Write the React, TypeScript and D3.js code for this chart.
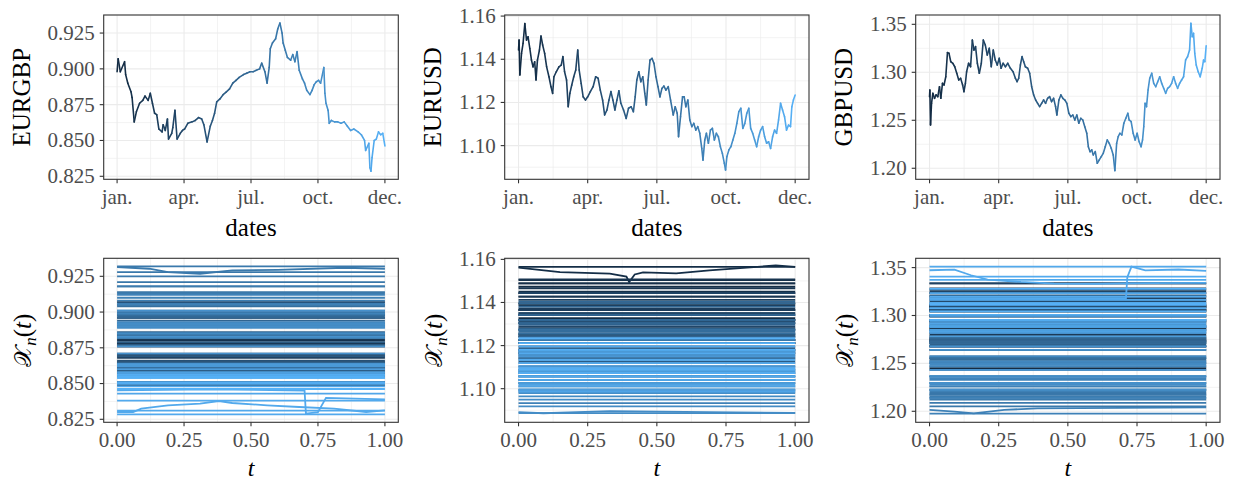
import React from "react";
import * as d3 from "d3";

// daily readings: [trading day (0 = jan., 250 = dec.), rate]
const eurgbp: [number, number][] = [
  [0, 0.898], [1, 0.907], [3, 0.898], [7, 0.905], [8, 0.896], [10, 0.89], [13, 0.884], [14, 0.88],
  [16, 0.863], [18, 0.87], [21, 0.876], [24, 0.878], [26, 0.881], [29, 0.878], [31, 0.883], [33, 0.876],
  [35, 0.869], [37, 0.868], [39, 0.858], [42, 0.856], [43, 0.861], [45, 0.857], [47, 0.865], [48, 0.851],
  [51, 0.855], [52, 0.859], [54, 0.871], [56, 0.851], [59, 0.855], [61, 0.857], [63, 0.858], [66, 0.862],
  [70, 0.863], [73, 0.864], [76, 0.866], [79, 0.865], [81, 0.861], [84, 0.849], [87, 0.86], [89, 0.864],
  [91, 0.869], [93, 0.877], [96, 0.879], [99, 0.882], [102, 0.884], [105, 0.886], [108, 0.89], [111, 0.892],
  [114, 0.894], [118, 0.896], [121, 0.897], [124, 0.898], [127, 0.898], [130, 0.899], [133, 0.9], [135, 0.904],
  [138, 0.898], [140, 0.89], [142, 0.901], [143, 0.914], [145, 0.918], [148, 0.921], [150, 0.928], [152, 0.932],
  [154, 0.925], [155, 0.918], [157, 0.913], [159, 0.908], [162, 0.906], [164, 0.91], [166, 0.905], [168, 0.912],
  [170, 0.899], [173, 0.893], [175, 0.89], [177, 0.885], [180, 0.882], [182, 0.885], [184, 0.889], [186, 0.891],
  [188, 0.892], [190, 0.89], [193, 0.901], [194, 0.883], [195, 0.876], [197, 0.871], [198, 0.862], [200, 0.864],
  [203, 0.863], [206, 0.863], [209, 0.862], [212, 0.863], [215, 0.86], [218, 0.857], [221, 0.858], [225, 0.856],
  [228, 0.854], [231, 0.85], [232, 0.843], [235, 0.848], [236, 0.831], [237, 0.8285], [238, 0.838], [240, 0.85],
  [242, 0.851], [244, 0.856], [246, 0.854], [248, 0.855], [250, 0.8462],
];

const eurusd: [number, number][] = [
  [0, 1.1443], [0.5, 1.1489], [1.2, 1.1327], [2.7, 1.1427], [4.1, 1.1474], [5.7, 1.1565], [7.2, 1.1489], [8.6, 1.1504],
  [10.2, 1.145], [11.7, 1.1396], [13.1, 1.1365], [14.6, 1.1388], [15.8, 1.1304], [17.1, 1.1396], [18.9, 1.1443], [20.3, 1.1507],
  [21.8, 1.1466], [23.6, 1.1427], [25.4, 1.1365], [27.5, 1.1319], [29.3, 1.1273], [30.8, 1.1242], [32, 1.1319], [34.1, 1.1342],
  [36.5, 1.1365], [38.6, 1.1373], [40.1, 1.1412], [41.6, 1.1342], [43.4, 1.1304], [44.9, 1.118], [46.4, 1.1242], [48.1, 1.1281],
  [49.9, 1.1319], [51.7, 1.135], [53.5, 1.1443], [54.8, 1.135], [56.6, 1.1288], [58.4, 1.1226], [60.5, 1.1211], [62.5, 1.1226],
  [64.9, 1.125], [67.4, 1.1273], [69.7, 1.1319], [71.9, 1.1312], [73.9, 1.1257], [76, 1.1211], [77.8, 1.1142], [79.9, 1.1165],
  [81.7, 1.1211], [83.5, 1.125], [85.3, 1.1211], [87.1, 1.1165], [88.9, 1.1211], [90.7, 1.1254], [92.5, 1.1196], [94.9, 1.1165],
  [97.3, 1.1126], [99.4, 1.1173], [101.8, 1.118], [103.8, 1.1157], [105.4, 1.1226], [106.9, 1.1304], [108.7, 1.1342], [110.5, 1.1296],
  [112.3, 1.1319], [114.1, 1.1242], [115.5, 1.1188], [117.1, 1.1304], [118.8, 1.1396], [120.6, 1.1404], [122.4, 1.1381], [124.2, 1.1319],
  [126, 1.1273], [127.8, 1.1226], [129.6, 1.1265], [131.4, 1.1276], [133.2, 1.1257], [135.3, 1.1273], [137.4, 1.1211], [139.8, 1.1142],
  [141.6, 1.118], [143.4, 1.115], [144.6, 1.1041], [146.4, 1.1134], [148.2, 1.1226], [149.7, 1.1226], [151.2, 1.118], [153, 1.1211],
  [154.8, 1.1119], [156.6, 1.1088], [158.4, 1.1103], [160.2, 1.1072], [162, 1.1088], [163.8, 1.1057], [165.6, 1.0987], [166.7, 1.0933],
  [168.3, 1.1026], [169.8, 1.1057], [171.6, 1.1011], [173.4, 1.1072], [175.2, 1.108], [177, 1.1026], [178.8, 1.1057], [180.6, 1.1041],
  [182.4, 1.0995], [184.2, 1.0964], [186, 1.0918], [187.1, 1.0887], [188.3, 1.0949], [190.1, 1.098], [191.9, 1.0995], [193.7, 1.1026],
  [195.5, 1.1057], [197.3, 1.1103], [199.1, 1.1157], [200.9, 1.1173], [202.7, 1.108], [204.5, 1.1103], [206.3, 1.115], [208.1, 1.1173],
  [209.8, 1.108], [211.6, 1.1057], [213.4, 1.1026], [215.2, 1.0995], [217, 1.1041], [218.8, 1.1072], [220.6, 1.1088], [222.4, 1.1041],
  [224.2, 1.1011], [226, 1.1018], [227.8, 1.0987], [229.6, 1.1041], [231.4, 1.1072], [233.2, 1.1057], [235, 1.1119], [236.8, 1.1196],
  [238.6, 1.1165], [240.4, 1.1134], [242.2, 1.1072], [244, 1.1095], [245.8, 1.1088], [247, 1.118], [248.4, 1.1211], [250, 1.1234],
];

const gbpusd: [number, number][] = [
  [0, 1.2746], [0.3, 1.2816], [0.9, 1.2451], [1.8, 1.2677], [3, 1.2781], [4.5, 1.2729], [5.9, 1.2764], [7.5, 1.2746],
  [9, 1.285], [10.2, 1.2729], [11.7, 1.2885], [13.1, 1.2868], [14.7, 1.2954], [16.2, 1.3205], [17.6, 1.3198], [19.2, 1.311],
  [21, 1.3094], [22.8, 1.3058], [24.6, 1.299], [26.4, 1.292], [28.1, 1.2938], [29.9, 1.2868], [31.1, 1.2798], [32.4, 1.2885],
  [33.5, 1.3006], [35.3, 1.3094], [37.1, 1.3058], [38.7, 1.3336], [40.1, 1.3232], [41.6, 1.3267], [43.2, 1.3094], [45, 1.299],
  [46.8, 1.3094], [48.6, 1.3336], [50.4, 1.3284], [52.2, 1.318], [54, 1.325], [55.8, 1.3058], [57.6, 1.3232], [59.4, 1.3128],
  [61.2, 1.3076], [63, 1.3146], [64.7, 1.3042], [66.5, 1.3094], [68.6, 1.3058], [70.7, 1.3094], [73.1, 1.3042], [75.5, 1.3006],
  [77.6, 1.2938], [79.1, 1.2902], [80.6, 1.2938], [82.1, 1.3076], [83.6, 1.3163], [85.1, 1.311], [86.6, 1.3058], [88.7, 1.3042],
  [90.5, 1.299], [92.3, 1.285], [94.1, 1.2764], [95.9, 1.2711], [97.7, 1.2677], [99.5, 1.2642], [101.3, 1.2677], [103.1, 1.2711],
  [104.9, 1.2677], [106.7, 1.2729], [108.5, 1.2746], [110.3, 1.2694], [112.1, 1.2729], [113.9, 1.2642], [115.1, 1.2555], [116.9, 1.2711],
  [118.7, 1.2764], [120.5, 1.2729], [122.3, 1.2711], [124.1, 1.2677], [125.9, 1.2573], [127.7, 1.2538], [129.5, 1.2555], [131.3, 1.2503],
  [133.1, 1.2555], [134.9, 1.2469], [136.7, 1.2521], [138.5, 1.2503], [140.3, 1.2433], [142.1, 1.2365], [143.5, 1.2225], [145.1, 1.2173],
  [146.6, 1.2191], [148, 1.2139], [149.8, 1.2173], [151.6, 1.2052], [153.4, 1.2087], [155.2, 1.2121], [157, 1.2156], [158.8, 1.2225],
  [160.6, 1.2295], [162.4, 1.226], [164.2, 1.2208], [166, 1.2139], [167.5, 1.1975], [169.1, 1.226], [170.5, 1.2329], [172, 1.2365],
  [173.8, 1.2347], [175.6, 1.2469], [177.4, 1.2521], [179.2, 1.2573], [180.4, 1.2503], [182.2, 1.2486], [184, 1.2365], [185.8, 1.2295],
  [187.6, 1.2365], [189.4, 1.2278], [191.2, 1.2225], [192.5, 1.2295], [193.6, 1.2433], [194.8, 1.2677], [196.1, 1.2642], [197.5, 1.2816],
  [199, 1.2938], [200.8, 1.299], [202.6, 1.2885], [204.4, 1.285], [206.2, 1.2902], [208, 1.2954], [209.8, 1.2885], [211.6, 1.2833],
  [213.4, 1.2781], [215.2, 1.2833], [217, 1.285], [218.8, 1.2885], [220.6, 1.2954], [222.4, 1.2885], [224.2, 1.2833], [226, 1.2885],
  [227.8, 1.292], [229.6, 1.2954], [231.4, 1.3128], [233.2, 1.3163], [235, 1.3232], [236.2, 1.351], [237.4, 1.3371], [238.6, 1.3406],
  [239.7, 1.3198], [241, 1.3076], [242.8, 1.3006], [244.6, 1.2954], [246.4, 1.3042], [247.6, 1.3128], [248.8, 1.311], [250, 1.3277],
];

// intraday curves that visibly move within the day: [t, rate]
const eurgbpCurves = [
  { day: 152, pts: [[0, 0.9315], [0.12, 0.9303], [0.19, 0.928], [0.31, 0.9268], [0.43, 0.9291], [0.6, 0.9295], [0.85, 0.931], [1, 0.9303]] },
  { day: 236, pts: [[0, 0.8301], [0.06, 0.8301], [0.09, 0.8325], [0.19, 0.8348], [0.31, 0.836], [0.38, 0.8378], [0.43, 0.8364], [0.56, 0.8348], [0.68, 0.8336], [0.81, 0.8325], [0.93, 0.8301], [1, 0.8313]] },
  { day: 237, pts: [[0, 0.8453], [0.35, 0.846], [0.7, 0.845], [0.705, 0.829], [0.75, 0.83], [0.78, 0.84], [1, 0.839]] },
];
const eurusdCurves = [
  { day: 6, pts: [[0, 1.1562], [0.15, 1.1541], [0.33, 1.1534], [0.39, 1.152], [0.4, 1.1495], [0.42, 1.153], [0.45, 1.154], [0.57, 1.1535], [0.69, 1.1549], [0.93, 1.1572], [1, 1.1565]] },
  { day: 187, pts: [[0, 1.0891], [0.09, 1.0886], [0.33, 1.0896], [0.69, 1.0891], [1, 1.0888]] },
];
const gbpusdCurves = [
  { day: 167, pts: [[0, 1.2014], [0.09, 1.1997], [0.16, 1.1979], [0.27, 1.2014], [0.39, 1.2031], [1, 1.204]] },
  { day: 236, pts: [[0, 1.3472], [0.09, 1.3478], [0.15, 1.342], [0.21, 1.3375], [0.33, 1.335], [0.45, 1.3333], [0.6, 1.333], [0.7, 1.3335], [0.8, 1.3338], [1, 1.334]] },
  { day: 237, pts: [[0, 1.318], [0.71, 1.318], [0.715, 1.34], [0.73, 1.351], [0.78, 1.347], [0.9, 1.348], [1, 1.3465]] },
];

const pairNames = ["EURGBP", "EURUSD", "GBPUSD"];
const seriesList = [eurgbp, eurusd, gbpusd];
const curveList = [eurgbpCurves, eurusdCurves, gbpusdCurves];
const yDomains = [[0.8229, 0.9376], [1.0844, 1.1605], [1.1885, 1.3597]];
const yTickList = [[0.825, 0.85, 0.875, 0.9, 0.925], [1.1, 1.12, 1.14, 1.16], [1.2, 1.25, 1.3, 1.35]];
const yDigits = [3, 2, 2];
const monthDays = [0, 62.5, 125, 187.5, 250];
const monthLabels = ["jan.", "apr.", "jul.", "oct.", "dec."];
const tTicks = [0, 0.25, 0.5, 0.75, 1];

const W = 1235;
const H = 481;
const FONT = "'Liberation Serif', 'DejaVu Serif', serif";
const colsX = [[103.7, 398.3], [504.7, 809], [915.7, 1220]];
const rowsY = [[15, 179.3], [258.3, 422.3]];
const titleXs = [30, 440.7, 851.7];

const color = d3.scaleLinear<string>().domain([0, 250]).range(["#132B43", "#56B1F7"]).interpolate(d3.interpolateLab);

function midTicks(ticks: number[], domain: number[]) {
  const step = ticks[1] - ticks[0];
  const out: number[] = [];
  for (let i = -1; i < ticks.length; i++) {
    const v = ticks[0] + step * (i + 0.5);
    if (v > domain[0] && v < domain[1]) out.push(v);
  }
  return out;
}

function Panel({ id, x, y, xTicks, xLabels, yTicks, digits, yTitle, xTitle, xTitleY, titleX, children }: any) {
  const [x0, x1] = x.range();
  const [yb, yt] = y.range();
  const xMinor = midTicks(xTicks, x.domain());
  const yMinor = midTicks(yTicks, y.domain());
  const cy = (yb + yt) / 2;
  return (
    <g>
      <clipPath id={id}>
        <rect x={x0} y={yt} width={x1 - x0} height={yb - yt} />
      </clipPath>
      <g stroke="#EBEBEB" fill="none">
        {yMinor.map((v) => <line key={"ym" + v} x1={x0} x2={x1} y1={y(v)} y2={y(v)} strokeWidth={0.6} />)}
        {xMinor.map((v) => <line key={"xm" + v} x1={x(v)} x2={x(v)} y1={yt} y2={yb} strokeWidth={0.6} />)}
        {yTicks.map((v: number) => <line key={"y" + v} x1={x0} x2={x1} y1={y(v)} y2={y(v)} strokeWidth={1.1} />)}
        {xTicks.map((v: number) => <line key={"x" + v} x1={x(v)} x2={x(v)} y1={yt} y2={yb} strokeWidth={1.1} />)}
      </g>
      <g clipPath={`url(#${id})`}>{children}</g>
      <rect x={x0} y={yt} width={x1 - x0} height={yb - yt} fill="none" stroke="#333333" strokeWidth={1.1} />
      <g stroke="#333333" strokeWidth={1.1}>
        {yTicks.map((v: number) => <line key={"yt" + v} x1={x0 - 4} x2={x0} y1={y(v)} y2={y(v)} />)}
        {xTicks.map((v: number) => <line key={"xt" + v} x1={x(v)} x2={x(v)} y1={yb} y2={yb + 4} />)}
      </g>
      <g fontFamily={FONT} fontSize={21} fill="#4D4D4D">
        {yTicks.map((v: number) => (
          <text key={"yl" + v} x={x0 - 9} y={y(v)} dy="0.33em" textAnchor="end">{v.toFixed(digits)}</text>
        ))}
        {xTicks.map((v: number, i: number) => (
          <text key={"xl" + v} x={x(v)} y={yb + 24.7} textAnchor="middle">{xLabels[i]}</text>
        ))}
      </g>
      <g fontFamily={FONT} fontSize={25} fill="#000000">
        <text x={(x0 + x1) / 2} y={yb + xTitleY} textAnchor="middle">{xTitle}</text>
        <text transform={`translate(${titleX},${cy}) rotate(-90)`} textAnchor="middle">{yTitle}</text>
      </g>
    </g>
  );
}

export default function App() {
  const line = d3.line<number[]>();
  return (
    <svg width={W} height={H} style={{ position: "absolute", left: 0, top: 0, background: "#fff" }}>
      <rect width={W} height={H} fill="#fff" />
      {pairNames.map((name, c) => {
        const data = seriesList[c];
        const xTop = d3.scaleLinear().domain([-12.5, 262.5]).range(colsX[c]);
        const yTop = d3.scaleLinear().domain(yDomains[c]).range([rowsY[0][1], rowsY[0][0]]);
        const xBot = d3.scaleLinear().domain([-0.05, 1.05]).range(colsX[c]);
        const yBot = d3.scaleLinear().domain(yDomains[c]).range([rowsY[1][1], rowsY[1][0]]);
        // one curve per day: flat at the day's level, plus the readable moving ones
        const curves = data
          .map(([d, v]) => ({ day: d, pts: [[0, v], [1, v]] }))
          .concat(curveList[c])
          .sort((a, b) => a.day - b.day);
        return (
          <g key={name}>
            <Panel
              id={"top" + c} x={xTop} y={yTop} xTicks={monthDays} xLabels={monthLabels}
              yTicks={yTickList[c]} digits={yDigits[c]} yTitle={name} xTitle="dates" xTitleY={56.7} titleX={titleXs[c]}
            >
              {data.slice(1).map((p, i) => (
                <line
                  key={i} x1={xTop(data[i][0])} y1={yTop(data[i][1])} x2={xTop(p[0])} y2={yTop(p[1])}
                  stroke={color(data[i][0])} strokeWidth={1.6} strokeLinecap="round"
                />
              ))}
            </Panel>
            <Panel
              id={"bot" + c} x={xBot} y={yBot} xTicks={tTicks} xLabels={tTicks.map((v) => v.toFixed(2))}
              yTicks={yTickList[c]} digits={yDigits[c]} titleX={titleXs[c] + 1}
              xTitle={<tspan fontStyle="italic" fontSize={24}>t</tspan>} xTitleY={53.5}
              yTitle={
                <>
                  <tspan fontFamily="'DejaVu Sans', 'Noto Sans', serif" fontSize={24}>𝒳</tspan>
                  <tspan fontStyle="italic" fontSize={17} dy={5}>n</tspan>
                  <tspan dy={-5}>(</tspan>
                  <tspan fontStyle="italic">t</tspan>
                  <tspan>)</tspan>
                </>
              }
            >
              {curves.map((cv, i) => (
                <path
                  key={i} d={line(cv.pts.map(([t, v]) => [xBot(t), yBot(v)])) || ""}
                  fill="none" stroke={color(cv.day)} strokeWidth={1.8}
                />
              ))}
            </Panel>
          </g>
        );
      })}
    </svg>
  );
}
